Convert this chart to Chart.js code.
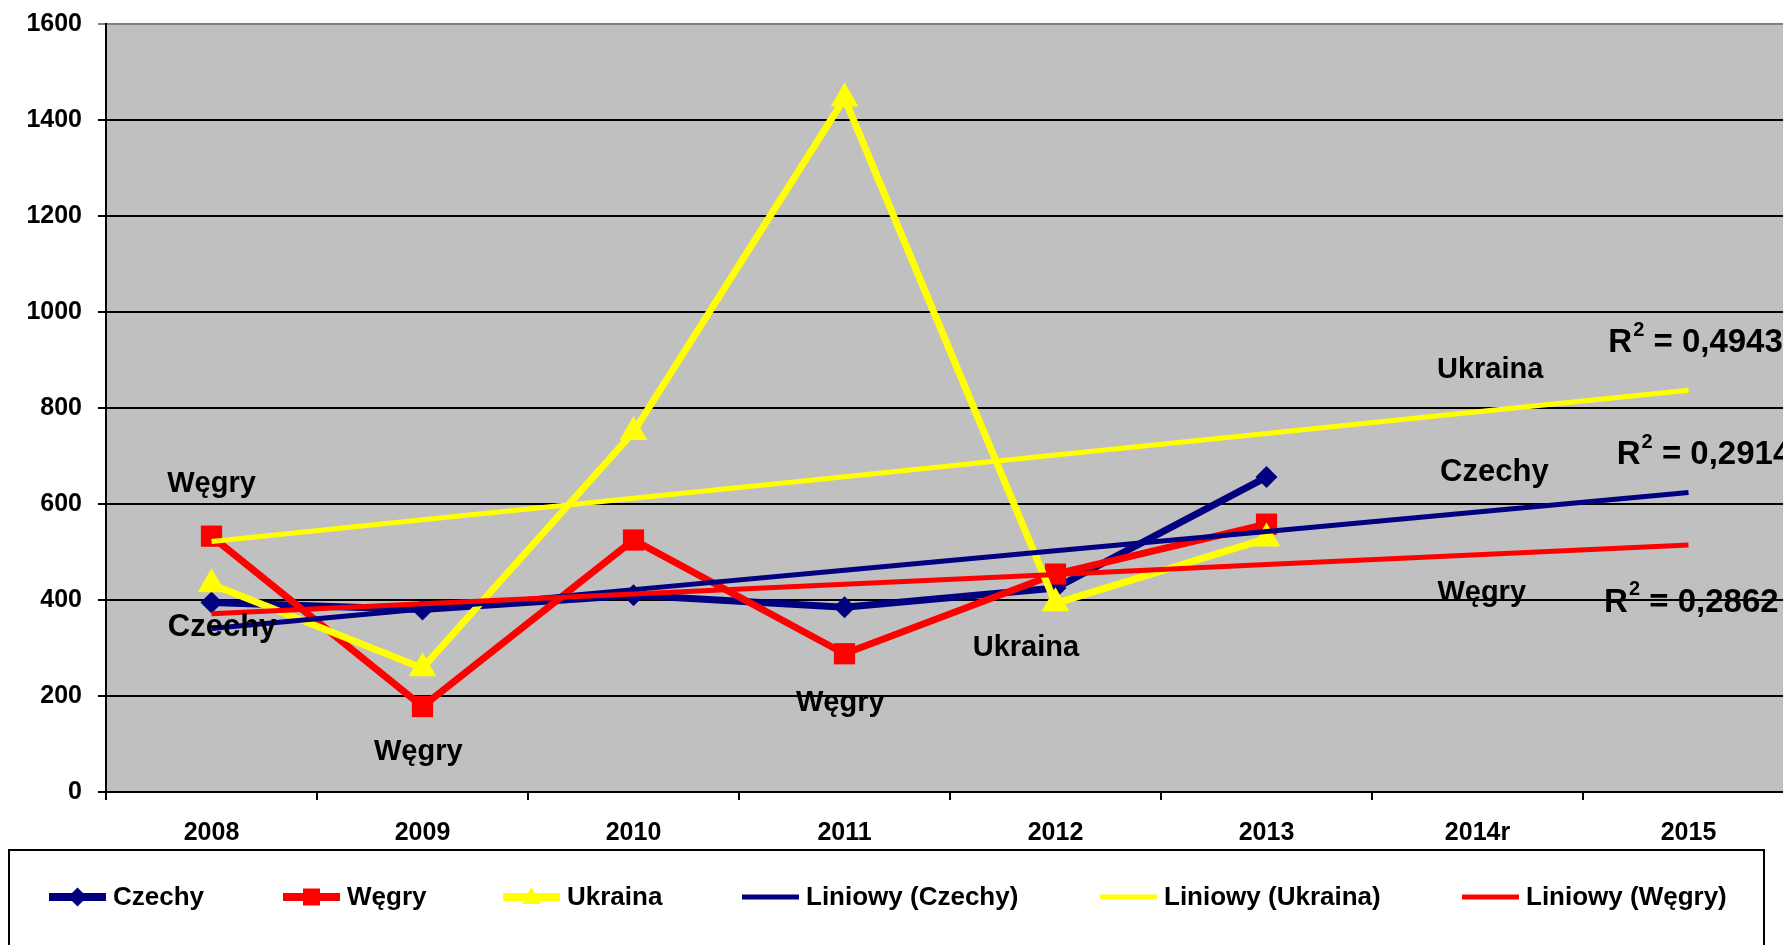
<!DOCTYPE html>
<html lang="pl">
<head>
<meta charset="utf-8">
<title>Czechy, Węgry, Ukraina 2008–2015</title>
<script src="https://cdn.jsdelivr.net/npm/chart.js@4.4.1/dist/chart.umd.min.js"></script>
<style>
  html, body { margin: 0; padding: 0; background: #fff; overflow: hidden; }
  #trendChart { display: block; }
</style>
</head>
<body>
<canvas id="trendChart" width="1810" height="945"></canvas>
<script>
// categories and series
const years = ['2008', '2009', '2010', '2011', '2012', '2013', '2014r', '2015'];
const czechy = [395, 380, 410, 385, 425, 656];
const wegry = [533, 178, 525, 288, 454, 558];
const ukraina = [433, 258, 750, 1445, 393, 528];
const yMin = 0, yMax = 1600, yStep = 200;

// R² values printed next to the trend lines
const r2Ukraina = '0,4943';
const r2Czechy = '0,2914';
const r2Wegry = '0,2862';

const NAVY = '#000080';
const RED = '#FF0000';
const YELLOW = '#FFFF00';
const FONT = '"Liberation Sans", Arial, Helvetica, sans-serif';

// least squares line over the known years, extended to all categories
function linearTrend(values, length) {
    const n = values.length;
    const mx = (n + 1) / 2;
    const my = values.reduce((a, b) => a + b, 0) / n;
    let sxy = 0, sxx = 0;
    values.forEach((v, i) => {
        sxy += (i + 1 - mx) * (v - my);
        sxx += (i + 1 - mx) * (i + 1 - mx);
    });
    const slope = sxy / sxx;
    return Array.from({ length }, (_, i) => my + slope * (i + 1 - mx));
}

// free text labels placed in data coordinates (category index, value)
const notes = [
    { text: 'Węgry', x: 0, y: 642, size: 29 },
    { text: 'Czechy', x: 0.05, y: 342, size: 31 },
    { text: 'Węgry', x: 0.98, y: 83, size: 29 },
    { text: 'Węgry', x: 2.98, y: 185, size: 29 },
    { text: 'Ukraina', x: 3.86, y: 300, size: 29 },
    { text: 'Ukraina', x: 6.06, y: 879, size: 29 },
    { text: 'Czechy', x: 6.08, y: 665, size: 31 },
    { text: 'Węgry', x: 6.02, y: 415, size: 29 }
];
const r2Notes = [
    { value: r2Ukraina, x: 6.62, y: 935 },
    { value: r2Czechy, x: 6.66, y: 702 },
    { value: r2Wegry, x: 6.60, y: 394 }
];

const plotBackground = {
    id: 'plotBackground',
    beforeDraw(chart) {
        const { ctx, chartArea: a } = chart;
        ctx.save();
        ctx.fillStyle = '#C0C0C0';
        ctx.fillRect(a.left, a.top, a.right - a.left, a.bottom - a.top);
        ctx.restore();
    }
};

const textNotes = {
    id: 'textNotes',
    afterDatasetsDraw(chart) {
        const { ctx, scales: { x, y } } = chart;
        ctx.save();
        ctx.fillStyle = '#000';
        ctx.textBaseline = 'middle';
        ctx.textAlign = 'center';
        notes.forEach(n => {
            ctx.font = `bold ${n.size}px ${FONT}`;
            ctx.fillText(n.text, x.getPixelForValue(n.x), y.getPixelForValue(n.y));
        });
        ctx.textAlign = 'left';
        r2Notes.forEach(n => {
            let px = x.getPixelForValue(n.x);
            const py = y.getPixelForValue(n.y);
            ctx.font = `bold 33px ${FONT}`;
            ctx.fillText('R', px, py);
            px += ctx.measureText('R').width + 1;
            ctx.font = `bold 20px ${FONT}`;
            ctx.fillText('2', px, py - 13);
            px += ctx.measureText('2').width;
            ctx.font = `bold 33px ${FONT}`;
            ctx.fillText(' = ' + n.value, px, py);
        });
        ctx.restore();
    }
};

function drawMarker(ctx, type, cx, cy, color) {
    ctx.fillStyle = color;
    ctx.beginPath();
    if (type === 'diamond') {
        ctx.moveTo(cx, cy - 9.5);
        ctx.lineTo(cx + 9.5, cy);
        ctx.lineTo(cx, cy + 9.5);
        ctx.lineTo(cx - 9.5, cy);
    } else if (type === 'square') {
        ctx.rect(cx - 8.5, cy - 8.5, 17, 17);
    } else if (type === 'triangle') {
        ctx.moveTo(cx, cy - 10);
        ctx.lineTo(cx + 9.5, cy + 7);
        ctx.lineTo(cx - 9.5, cy + 7);
    }
    ctx.closePath();
    ctx.fill();
}

// boxed legend under the axis: line sample, optional marker, label
const boxLegend = {
    id: 'boxLegend',
    afterDraw(chart) {
        const { ctx } = chart;
        const items = [
            { ds: 0, marker: 'diamond', lineX: 49, textX: 113 },
            { ds: 1, marker: 'square', lineX: 283, textX: 347 },
            { ds: 2, marker: 'triangle', lineX: 503, textX: 567 },
            { ds: 3, marker: null, lineX: 742, textX: 806 },
            { ds: 4, marker: null, lineX: 1100, textX: 1164 },
            { ds: 5, marker: null, lineX: 1462, textX: 1526 }
        ];
        const cy = 897;
        ctx.save();
        ctx.fillStyle = '#fff';
        ctx.fillRect(9, 850, 1755, 120);
        ctx.strokeStyle = '#000';
        ctx.lineWidth = 2;
        ctx.strokeRect(9, 850, 1755, 120);
        ctx.font = `bold 26px ${FONT}`;
        ctx.textBaseline = 'middle';
        ctx.textAlign = 'left';
        items.forEach(it => {
            const ds = chart.data.datasets[it.ds];
            ctx.strokeStyle = ds.borderColor;
            ctx.lineWidth = it.marker ? 8 : 5;
            ctx.beginPath();
            ctx.moveTo(it.lineX, cy);
            ctx.lineTo(it.lineX + 57, cy);
            ctx.stroke();
            if (it.marker) drawMarker(ctx, it.marker, it.lineX + 28.5, cy, ds.borderColor);
            ctx.fillStyle = '#000';
            ctx.fillText(ds.label, it.textX, cy + 1);
        });
        ctx.restore();
    }
};

function seriesSet(label, data, color, style, radius, order) {
    return {
        label, data, order,
        borderColor: color,
        backgroundColor: color,
        borderWidth: 7,
        pointStyle: style,
        pointRadius: radius,
        pointBackgroundColor: color,
        pointBorderWidth: 0,
        tension: 0,
        fill: false
    };
}

function trendSet(label, data, color, order) {
    return {
        label, data, order,
        borderColor: color,
        backgroundColor: color,
        borderWidth: 5,
        pointRadius: 0,
        tension: 0,
        fill: false
    };
}

// fixed axis boxes, no extra room reserved for edge labels
function noEdgePadding(scale) {
    scale.paddingTop = 0;
    scale.paddingBottom = 0;
    scale.paddingLeft = 0;
    scale.paddingRight = 0;
}

document.addEventListener('DOMContentLoaded', () => {
    const ctx = document.getElementById('trendChart').getContext('2d');
    Chart.defaults.font.family = FONT;
    Chart.defaults.color = '#000';

    new Chart(ctx, {
        type: 'line',
        data: {
            labels: years,
            datasets: [
                seriesSet('Czechy', czechy, NAVY, 'rectRot', 11, 6),
                seriesSet('Węgry', wegry, RED, 'rect', 15, 5),
                seriesSet('Ukraina', ukraina, YELLOW, 'triangle', 16, 4),
                trendSet('Liniowy (Czechy)', linearTrend(czechy, years.length), NAVY, 3),
                trendSet('Liniowy (Ukraina)', linearTrend(ukraina, years.length), YELLOW, 2),
                trendSet('Liniowy (Węgry)', linearTrend(wegry, years.length), RED, 1)
            ]
        },
        options: {
            responsive: false,
            animation: false,
            events: [],
            layout: { padding: { top: 24, right: 6, bottom: 93, left: 0 } },
            plugins: {
                legend: { display: false },
                tooltip: { enabled: false }
            },
            scales: {
                x: {
                    offset: true,
                    grid: {
                        offset: true,
                        drawOnChartArea: false,
                        drawTicks: true,
                        tickLength: 8,
                        color: '#000',
                        lineWidth: 2
                    },
                    border: { color: '#000', width: 2 },
                    ticks: {
                        font: { size: 25, weight: 'bold' },
                        color: '#000',
                        padding: 18,
                        maxRotation: 0,
                        autoSkip: false
                    },
                    afterFit(scale) {
                        scale.height = 60;
                        noEdgePadding(scale);
                    }
                },
                y: {
                    min: yMin,
                    max: yMax,
                    grid: {
                        color: c => (c.tick && c.tick.value === yMax ? '#808080' : '#000'),
                        lineWidth: 2,
                        tickLength: 8
                    },
                    border: { color: '#000', width: 2 },
                    ticks: {
                        stepSize: yStep,
                        font: { size: 25, weight: 'bold' },
                        color: '#000',
                        padding: 16,
                        callback: v => String(v)
                    },
                    afterFit(scale) {
                        scale.width = 106;
                        noEdgePadding(scale);
                    }
                }
            }
        },
        plugins: [plotBackground, textNotes, boxLegend]
    });
});
</script>
</body>
</html>
